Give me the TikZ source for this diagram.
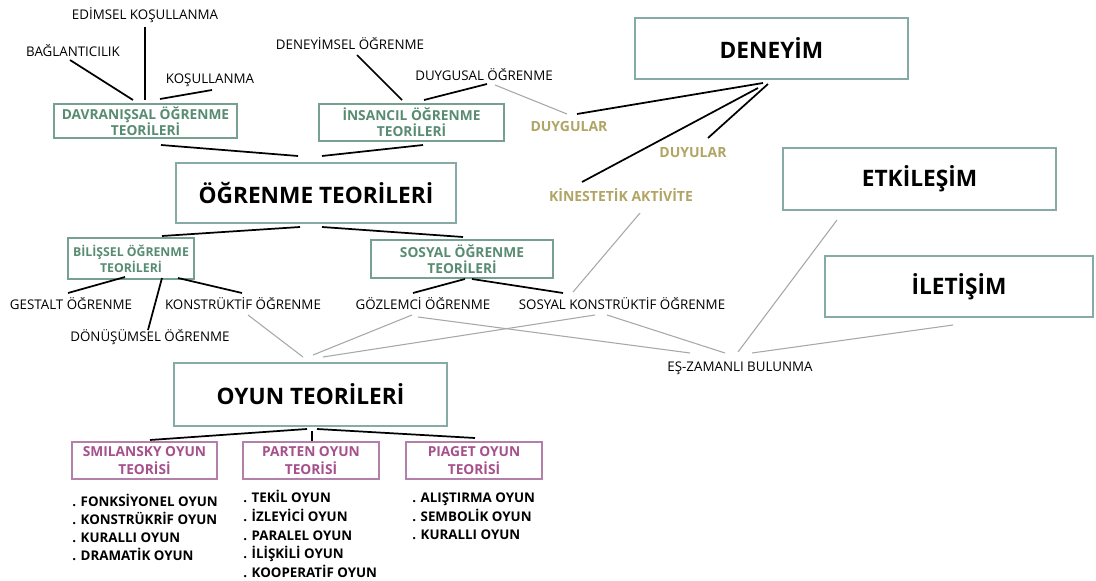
\documentclass[tikz,border=0pt]{standalone}
\usepackage{fontspec}
\setmainfont{Open Sans}
\definecolor{tealline}{RGB}{134,170,166}
\definecolor{greenline}{RGB}{118,160,144}
\definecolor{greentext}{RGB}{88,140,114}
\definecolor{pinkline}{RGB}{178,128,168}
\definecolor{pinktext}{RGB}{166,80,140}
\definecolor{sensecolor}{RGB}{176,165,100}
\definecolor{faintgray}{RGB}{168,168,168}
\begin{document}
\begin{tikzpicture}[x=0.75pt,y=-0.75pt,
  boxsize/.style 2 args={minimum width={#1*0.75pt}, minimum height={#2*0.75pt}},
  mainbox/.style={draw=tealline, line width=2.2pt, inner sep=0pt,
    font=\bfseries\fontsize{17}{20}\selectfont},
  greenbox/.style={draw=greenline, line width=1.2pt, inner sep=0pt, align=center,
    text=greentext, font=\bfseries\fontsize{10.3}{12.2}\selectfont},
  pinkbox/.style={draw=pinkline, line width=1.2pt, inner sep=0pt, align=center,
    text=pinktext, font=\bfseries\fontsize{10.3}{13}\selectfont},
  term/.style={inner sep=0pt, font=\fontsize{10}{12}\selectfont,
    text height=7.1pt, text depth=0pt},
  sense/.style={inner sep=0pt, text=sensecolor, font=\bfseries\fontsize{10.5}{12}\selectfont,
    text height=7.5pt, text depth=0pt},
  playlist/.style={inner sep=0pt, align=left, anchor=base west},
  link/.style={line width=1.3pt, draw=black},
  faint/.style={line width=0.8pt, draw=faintgray}]

\fill[white] (0,0) rectangle (1096,581);
\useasboundingbox (0,0) rectangle (1096,581);

% ---- main concept boxes
\node[mainbox, boxsize={280}{60}] (ogr) at (316,193) {ÖĞRENME TEORİLERİ};
\node[mainbox, boxsize={273}{61}] (den) at (771.5,48.5) {DENEYİM};
\node[mainbox, boxsize={273}{62}] (etk) at (919.5,179) {ETKİLEŞİM};
\node[mainbox, boxsize={268}{61}] (ilet) at (959,286.5) {İLETİŞİM};
\node[mainbox, boxsize={273}{63}] (oyun) at (310.5,394.5) {OYUN TEORİLERİ};

% ---- learning theory families
\node[greenbox, boxsize={183}{34}] (davr) at (145.5,121) {DAVRANIŞSAL ÖĞRENME\\TEORİLERİ};
\node[greenbox, boxsize={185}{37}] (insan) at (411.5,122.5) {İNSANCIL ÖĞRENME\\TEORİLERİ};
\node[greenbox, boxsize={126}{41}, font=\bfseries\fontsize{9.2}{12.2}\selectfont] (bil) at (131,258.5) {BİLİŞSEL ÖĞRENME\\TEORİLERİ};
\node[greenbox, boxsize={182}{38}] (sos) at (462,259) {SOSYAL ÖĞRENME\\TEORİLERİ};

% ---- play theories
\node[pinkbox, boxsize={145}{37}] (smil) at (144.5,460.5) {SMILANSKY OYUN\\TEORİSİ};
\node[pinkbox, boxsize={136}{37}] (part) at (311,460.5) {PARTEN OYUN\\TEORİSİ};
\node[pinkbox, boxsize={136}{37}] (piag) at (474,460.5) {PIAGET OYUN\\TEORİSİ};

% ---- terms
\node[term] (edim) at (145,15) {EDİMSEL KOŞULLANMA};
\node[term] (bag) at (73,52) {BAĞLANTICILIK};
\node[term] (kos) at (210,79) {KOŞULLANMA};
\node[term] (deny) at (350,45) {DENEYİMSEL ÖĞRENME};
\node[term] (duyg) at (484,76) {DUYGUSAL ÖĞRENME};
\node[term] (gest) at (71,305) {GESTALT ÖĞRENME};
\node[term] (donus) at (150,337) {DÖNÜŞÜMSEL ÖĞRENME};
\node[term] (konst) at (243,305) {KONSTRÜKTİF ÖĞRENME};
\node[term] (gozl) at (423,305) {GÖZLEMCİ ÖĞRENME};
\node[term] (skonst) at (622,305) {SOSYAL KONSTRÜKTİF ÖĞRENME};
\node[term] (es) at (740,367) {EŞ-ZAMANLI BULUNMA};

% ---- senses
\node[sense] (duygular) at (569,127) {DUYGULAR};
\node[sense] (duyular) at (693,153) {DUYULAR};
\node[sense] (kin) at (621,196) {KİNESTETİK AKTİVİTE};

% ---- play types (anchored on the baseline of the last line)
\node[playlist, font=\bfseries\fontsize{10}{13.5}\selectfont] (smillist) at (72,560.8)
  {. FONKSİYONEL OYUN\\. KONSTRÜKRİF OYUN\\. KURALLI OYUN\\. DRAMATİK OYUN};
\node[playlist, font=\bfseries\fontsize{10}{14}\selectfont] (partlist) at (243,577.4)
  {. TEKİL OYUN\\. İZLEYİCİ OYUN\\. PARALEL OYUN\\. İLİŞKİLİ OYUN\\. KOOPERATİF OYUN};
\node[playlist, font=\bfseries\fontsize{10}{14}\selectfont] (piaglist) at (412,539.8)
  {. ALIŞTIRMA OYUN\\. SEMBOLİK OYUN\\. KURALLI OYUN};

% ---- black links
\draw[link] ([shift={(0,12)}]edim.center) -- ([shift={(-0.5,-21)}]davr.center);
\draw[link] ([shift={(-3,8)}]bag.center) -- ([shift={(-12.5,-21)}]davr.center);
\draw[link] ([shift={(2,11)}]kos.center) -- ([shift={(14.5,-22)}]davr.center);
\draw[link] ([shift={(15.5,24)}]davr.center) -- ([shift={(-18,-37)}]ogr.center);
\draw[link] ([shift={(11.5,22.5)}]insan.center) -- ([shift={(6,-37)}]ogr.center);
\draw[link] ([shift={(7,10)}]deny.center) -- ([shift={(-9.5,-22.5)}]insan.center);
\draw[link] ([shift={(3,8)}]duyg.center) -- ([shift={(12.5,-22.5)}]insan.center);
\draw[link] ([shift={(-8.5,34.5)}]den.center) -- ([shift={(8,-13)}]duygular.center);
\draw[link] ([shift={(-3.5,35.5)}]den.center) -- ([shift={(15,-15)}]duyular.center);
\draw[link] ([shift={(-13.5,39.5)}]den.center) -- ([shift={(-39,-14)}]kin.center);
\draw[link] ([shift={(-16,34)}]ogr.center) -- ([shift={(31,-22.5)}]bil.center);
\draw[link] ([shift={(6,34)}]ogr.center) -- ([shift={(1,-22)}]sos.center);
\draw[link] ([shift={(-6,18.5)}]bil.center) -- ([shift={(-3,-12)}]gest.center);
\draw[link] ([shift={(31,19.5)}]bil.center) -- ([shift={(-2,-7)}]donus.center);
\draw[link] ([shift={(47,19.5)}]bil.center) -- ([shift={(-1,-12)}]konst.center);
\draw[link] ([shift={(3,20)}]sos.center) -- ([shift={(-10,-12)}]gozl.center);
\draw[link] ([shift={(10,20)}]sos.center) -- ([shift={(-59,-12)}]skonst.center);
\draw[link] ([shift={(-3.5,34.5)}]oyun.center) -- ([shift={(5.5,-20.5)}]smil.center);
\draw[link] ([shift={(1.5,36.5)}]oyun.center) -- ([shift={(1,-19.5)}]part.center);
\draw[link] ([shift={(6.5,34.5)}]oyun.center) -- ([shift={(1,-22.5)}]piag.center);

% ---- grey links
\draw[faint] ([shift={(11,9)}]duyg.center) -- ([shift={(-2,-13)}]duygular.center);
\draw[faint] ([shift={(19,17)}]kin.center) -- ([shift={(-49,-13)}]skonst.center);
\draw[faint] ([shift={(5,10)}]konst.center) -- ([shift={(-7.5,-37.5)}]oyun.center);
\draw[faint] ([shift={(-11,10)}]gozl.center) -- ([shift={(2.5,-39.5)}]oyun.center);
\draw[faint] ([shift={(-27,10)}]skonst.center) -- ([shift={(12.5,-37.5)}]oyun.center);
\draw[faint] ([shift={(-5,12)}]gozl.center) -- ([shift={(-50,-14)}]es.center);
\draw[faint] ([shift={(-15,10)}]skonst.center) -- ([shift={(-15,-14)}]es.center);
\draw[faint] ([shift={(-82.5,41)}]etk.center) -- ([shift={(-2,-15)}]es.center);
\draw[faint] ([shift={(-6,38.5)}]ilet.center) -- ([shift={(12,-14)}]es.center);
\end{tikzpicture}
\end{document}
